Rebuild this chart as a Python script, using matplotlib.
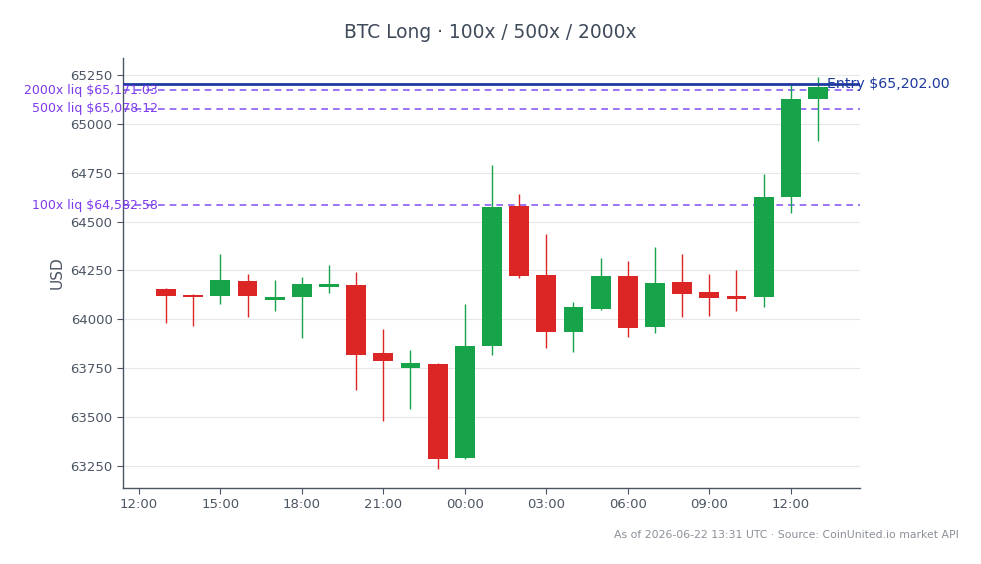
import matplotlib
matplotlib.use("Agg")
import matplotlib.pyplot as plt
import matplotlib.dates as mdates
import matplotlib.transforms as mtrans
import pandas as pd

times = pd.date_range("2026-06-21 13:00", periods=25, freq="h")
opens = [64155, 64125, 64121, 64196, 64101, 64116, 64167, 64177, 63830, 63753, 63772, 63292, 63865,
         64581, 64227, 63937, 64055, 64222, 63962, 64191, 64140, 64118, 64112, 64625, 65126]
highs = [64162, 64131, 64334, 64234, 64201, 64218, 64280, 64242, 63951, 63843, 63778, 64079, 64791,
         64643, 64437, 64090, 64315, 64300, 64372, 64334, 64232, 64254, 64744, 65200, 65241]
lows = [63983, 63966, 64080, 64012, 64043, 63905, 64136, 63639, 63480, 63542, 63236, 63287, 63819,
        64213, 63855, 63835, 64048, 63911, 63932, 64014, 64019, 64044, 64065, 64546, 64914]
closes = [64121, 64116, 64201, 64121, 64114, 64182, 64182, 63819, 63789, 63777, 63287, 63864, 64575,
          64223, 63937, 64063, 64222, 63957, 64186, 64131, 64111, 64106, 64626, 65127, 65190]

entry_price = 65202.00
liq_labels = ["100x", "500x", "2000x"]
liq_prices = [64582.58, 65078.12, 65171.03]

title = "BTC Long \u00b7 100x / 500x / 2000x"
footer = "As of 2026-06-22 13:31 UTC \u00b7 Source: CoinUnited.io market API"
yticks = list(range(63250, 65251, 250))
xtick_times = pd.date_range("2026-06-21 12:00", periods=9, freq="3h")

GREEN = "#16a34a"
RED = "#dc2626"
BLUE = "#1e3a9f"
PURPLE_LINE = "#8b5cf6"
PURPLE_TEXT = "#7c3aed"
TXT = "#4b5563"

fig = plt.figure(figsize=(9.81, 5.64), dpi=100)
ax = fig.add_axes([0.1254, 0.1348, 0.7513, 0.7624])

xs = mdates.date2num(times.to_pydatetime())
w = 0.73 / 24
for x, o, h, l, c in zip(xs, opens, highs, lows, closes):
    col = GREEN if c >= o else RED
    ax.vlines(x, l, h, color=col, lw=1.0, zorder=2)
    ax.bar(x, abs(c - o), bottom=min(o, c), width=w, color=col, zorder=3, linewidth=0)

ax.axhline(entry_price, color=BLUE, lw=2.0, zorder=4)
trans = mtrans.blended_transform_factory(ax.transAxes, ax.transData)
for lab, p in zip(liq_labels, liq_prices):
    ax.axhline(p, color=PURPLE_LINE, lw=1.2, ls=(0, (4, 3)), zorder=1.5)
    ax.text(0.047, p, f"{lab} liq ${p:,.2f}", transform=trans, ha="right", va="center",
            fontsize=9, color=PURPLE_TEXT, clip_on=False, zorder=5)
ax.text(0.955, entry_price, f"Entry ${entry_price:,.2f}", transform=trans, ha="left", va="center",
        fontsize=10.2, color=BLUE, clip_on=False, zorder=5)

x0 = mdates.date2num(pd.Timestamp("2026-06-21 11:25").to_pydatetime())
x1 = mdates.date2num(pd.Timestamp("2026-06-22 14:33").to_pydatetime())
ax.set_xlim(x0, x1)
ax.set_ylim(63137, 65337)
ax.set_yticks(yticks)
ax.set_yticklabels([str(v) for v in yticks])
ax.set_xticks(mdates.date2num(xtick_times.to_pydatetime()))
ax.xaxis.set_major_formatter(mdates.DateFormatter("%H:%M"))

ax.grid(axis="y", color="#e5e7eb", lw=0.8, zorder=0)
ax.set_axisbelow(True)
for s in ["top", "right"]:
    ax.spines[s].set_visible(False)
for s in ["left", "bottom"]:
    ax.spines[s].set_color("#4b5563")
    ax.spines[s].set_linewidth(1.0)
ax.tick_params(axis="both", colors=TXT, labelsize=9.5, length=4, width=0.8)
ax.set_ylabel("USD", color=TXT, fontsize=11)

fig.text(0.4995, 0.942, title, ha="center", va="center", fontsize=13.4, color="#3f4a5a")
fig.text(0.977, 0.051, footer, ha="right", va="center", fontsize=7.85, color="#8a8f98")

fig.savefig("out.png", dpi=100)
